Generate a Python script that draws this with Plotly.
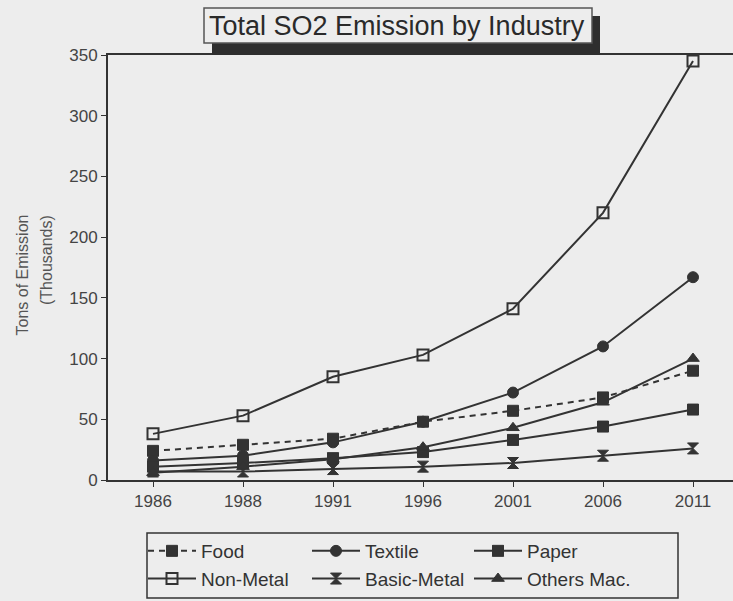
import plotly.graph_objects as go

years = ["1986", "1988", "1991", "1996", "2001", "2006", "2011"]
food = [24, 29, 34, 48, 57, 68, 90]
textile = [16, 20, 31, 48, 72, 110, 167]
paper = [11, 14, 18, 23, 33, 44, 58]
non_metal = [38, 53, 85, 103, 141, 220, 345]
basic_metal = [7, 7, 9, 11, 14, 20, 26]
others = [6, 11, 17, 27, 43, 64, 100]
y_ticks = [0, 50, 100, 150, 200, 250, 300, 350]

INK = "#333333"
BG = "#ededed"
FONT = "Liberation Sans, Arial, sans-serif"

W, H = 733, 601
ML, MR, MT, MB = 108, 0, 55, 121
PW, PH = W - ML - MR, H - MT - MB


def px(x):
    return (x - ML) / PW


def py(y):
    return (H - MB - y) / PH


series = [
    ("Food", food, "square", dict(dash="6px,5px"), "legend"),
    ("Non-Metal", non_metal, "square-open", dict(), "legend"),
    ("Textile", textile, "circle", dict(), "legend2"),
    ("Basic-Metal", basic_metal, "hourglass", dict(), "legend2"),
    ("Paper", paper, "square-x", dict(), "legend3"),
    ("Others Mac.", others, "triangle-up", dict(), "legend3"),
]

fig = go.Figure()
for name, vals, sym, ldict, leg in series:
    fig.add_trace(go.Scatter(
        x=years, y=vals, name=name, mode="lines+markers",
        line=dict(color=INK, width=2, **ldict),
        marker=dict(symbol=sym, size=11, color=INK,
                    line=dict(color=INK, width=2 if sym == "square-open" else 1)),
        legend=leg,
    ))

legend_common = dict(
    font=dict(family=FONT, size=19, color=INK),
    bgcolor="rgba(0,0,0,0)", borderwidth=0,
    orientation="v", yanchor="top", xanchor="left",
    itemwidth=48, tracegroupgap=0,
)

fig.update_layout(
    width=W, height=H,
    margin=dict(l=ML, r=MR, t=MT, b=MB, autoexpand=False),
    paper_bgcolor=BG, plot_bgcolor=BG,
    font=dict(family=FONT, color=INK),
    showlegend=True,
    legend=dict(x=px(143), y=py(532), **legend_common),
    legend2=dict(x=px(307), y=py(532), **legend_common),
    legend3=dict(x=px(469), y=py(532), **legend_common),
    xaxis=dict(
        type="category", range=[-0.5, -0.5 + PW / 90.0],
        showline=True, linecolor=INK, linewidth=2, mirror=True,
        showgrid=False, zeroline=False,
        ticks="outside", ticklen=5, tickcolor=INK, tickwidth=1,
        tickfont=dict(family=FONT, size=17, color="#444444"),
    ),
    yaxis=dict(
        range=[0, 350], tickvals=y_ticks,
        showline=True, linecolor=INK, linewidth=2,
        showgrid=False, zeroline=False,
        ticks="outside", ticklen=5, tickcolor=INK, tickwidth=1,
        tickfont=dict(family=FONT, size=17, color="#444444"),
    ),
    shapes=[
        # title drop shadow
        dict(type="rect", xref="paper", yref="paper",
             x0=px(212), x1=px(600), y0=py(55), y1=py(16),
             fillcolor="#2e2e2e", line=dict(width=0), layer="above"),
        # title box
        dict(type="rect", xref="paper", yref="paper",
             x0=px(204), x1=px(592), y0=py(43), y1=py(8),
             fillcolor=BG, line=dict(color="#555555", width=1.5), layer="above"),
        # legend border
        dict(type="rect", xref="paper", yref="paper",
             x0=px(147), x1=px(678), y0=py(598), y1=py(533),
             fillcolor="rgba(0,0,0,0)", line=dict(color=INK, width=1.5), layer="above"),
    ],
    annotations=[
        dict(text="Total SO2 Emission by Industry", xref="paper", yref="paper",
             x=px(397), y=py(26), xanchor="center", yanchor="middle",
             showarrow=False, font=dict(family=FONT, size=27, color="#2a2a2a")),
        dict(text="Tons of Emission", xref="paper", yref="paper",
             x=px(22), y=py(213), xanchor="center", yanchor="top", textangle=-90,
             showarrow=False, font=dict(family=FONT, size=16, color="#555555")),
        dict(text="(Thousands)", xref="paper", yref="paper",
             x=px(46), y=py(213), xanchor="center", yanchor="top", textangle=-90,
             showarrow=False, font=dict(family=FONT, size=16, color="#555555")),
    ],
)

fig.write_html(
    "out.html",
    config={"displayModeBar": False},
    post_script="document.body.style.margin='0';document.body.style.overflow='hidden';",
)
